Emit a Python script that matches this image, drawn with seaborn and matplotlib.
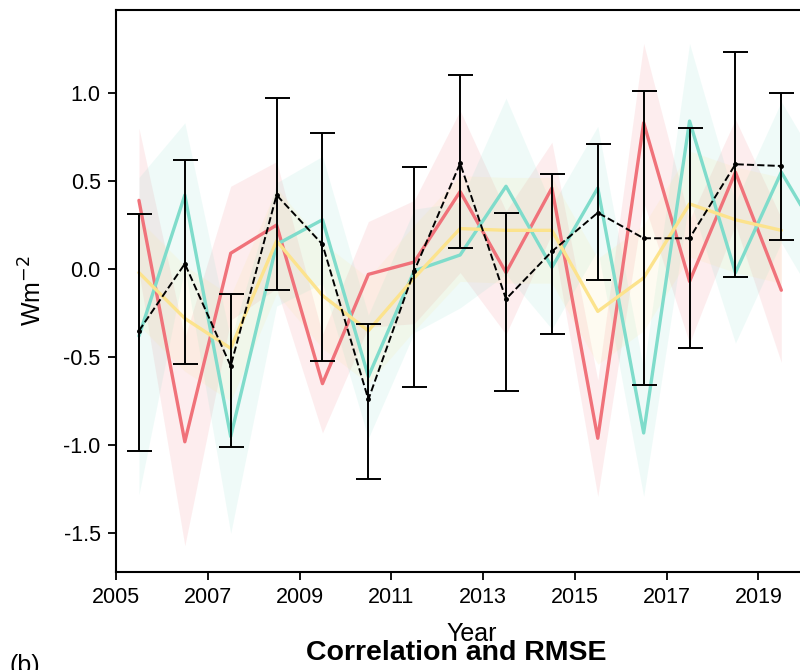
import numpy as np
import pandas as pd
import matplotlib
matplotlib.use("Agg")
import matplotlib.pyplot as plt
import seaborn as sns

# Years (mid-year positions)
years = [2005.5, 2006.5, 2007.5, 2008.5, 2009.5, 2010.5, 2011.5, 2012.5,
         2013.5, 2014.5, 2015.5, 2016.5, 2017.5, 2018.5, 2019.5]
years_teal = years + [2020.5]

# Model series (ensemble means) and their spread
red_vals = [0.39, -0.98, 0.09, 0.25, -0.65, -0.03, 0.04, 0.44,
            -0.02, 0.46, -0.96, 0.83, -0.07, 0.55, -0.12]
red_spread = [0.41, 0.59, 0.38, 0.36, 0.28, 0.30, 0.35, 0.46,
              0.35, 0.26, 0.33, 0.45, 0.35, 0.30, 0.41]

teal_vals = [-0.38, 0.42, -0.95, 0.14, 0.28, -0.61, -0.01, 0.08,
             0.47, 0.01, 0.46, -0.93, 0.84, -0.02, 0.55, 0.11]
teal_spread = [0.90, 0.41, 0.55, 0.35, 0.36, 0.35, 0.35, 0.30,
               0.50, 0.35, 0.35, 0.36, 0.44, 0.40, 0.40, 0.40]

yellow_vals = [-0.02, -0.28, -0.45, 0.16, -0.15, -0.35, -0.05, 0.23,
               0.22, 0.22, -0.24, -0.05, 0.37, 0.28, 0.22]
yellow_spread = [0.30, 0.30, 0.30, 0.30, 0.30, 0.30, 0.30, 0.30,
                 0.30, 0.30, 0.30, 0.30, 0.30, 0.30, 0.30]

# Observations with error bar bounds
obs_mean = [-0.35, 0.03, -0.55, 0.42, 0.14, -0.74, -0.01, 0.60,
            -0.17, 0.10, 0.32, 0.175, 0.175, 0.595, 0.585]
obs_low = [-1.03, -0.54, -1.01, -0.12, -0.52, -1.19, -0.67, 0.12,
           -0.69, -0.37, -0.06, -0.66, -0.45, -0.045, 0.165]
obs_high = [0.31, 0.62, -0.14, 0.97, 0.77, -0.31, 0.58, 1.10,
            0.32, 0.54, 0.71, 1.01, 0.80, 1.23, 1.00]

RED = "#F0727A"
TEAL = "#7FDCCB"
YELLOW = "#FCE38D"

sns.set_style("ticks")
plt.rcParams['font.family'] = ['Liberation Sans', 'DejaVu Sans']
plt.rcParams['text.color'] = 'black'
plt.rcParams['axes.labelcolor'] = 'black'
plt.rcParams['xtick.color'] = 'black'
plt.rcParams['ytick.color'] = 'black'

fig = plt.figure(figsize=(8, 6.7), dpi=100)
ax = fig.add_axes([0.145, 0.146, 0.889, 0.839])

series = [
    (years, red_vals, red_spread, RED),
    (years_teal, teal_vals, teal_spread, TEAL),
    (years, yellow_vals, yellow_spread, YELLOW),
]
for x, v, s, c in series:
    v = np.array(v)
    s = np.array(s)
    ax.fill_between(x, v - s, v + s, color=c, alpha=0.12, linewidth=0)

for x, v, s, c in series:
    df = pd.DataFrame({"Year": x, "val": v})
    sns.lineplot(data=df, x="Year", y="val", color=c, linewidth=2.4, ax=ax)

obs = np.array(obs_mean)
yerr = [obs - np.array(obs_low), np.array(obs_high) - obs]
ax.errorbar(years, obs, yerr=yerr, fmt="none", ecolor="black",
            elinewidth=1.4, capsize=9, capthick=1.4, zorder=5)
ax.plot(years, obs, color="black", linestyle="--", linewidth=1.4,
        marker="o", markersize=2.5, zorder=6)

ax.set_xlim(2005, 2020.5)
ax.set_ylim(-1.72, 1.47)
ax.set_xticks([2005, 2007, 2009, 2011, 2013, 2015, 2017, 2019])
ax.set_yticks([-1.5, -1.0, -0.5, 0.0, 0.5, 1.0])
ax.set_yticklabels(["-1.5", "-1.0", "-0.5", "0.0", "0.5", "1.0"])
ax.tick_params(labelsize=15.5, width=1.3, length=6, pad=5)
ax.set_xlabel("Year", fontsize=18, labelpad=10)
ax.set_ylabel("Wm$^{-2}$", fontsize=18, labelpad=12)
for sp in ax.spines.values():
    sp.set_linewidth(1.5)
    sp.set_color("black")

fig.text(0.57, 0.025, "Correlation and RMSE", fontsize=20.5, fontweight="bold",
         ha="center", va="center")
fig.text(0.012, 0.006, "(b)", fontsize=18, ha="left", va="center")

fig.savefig("out.png", dpi=100)
